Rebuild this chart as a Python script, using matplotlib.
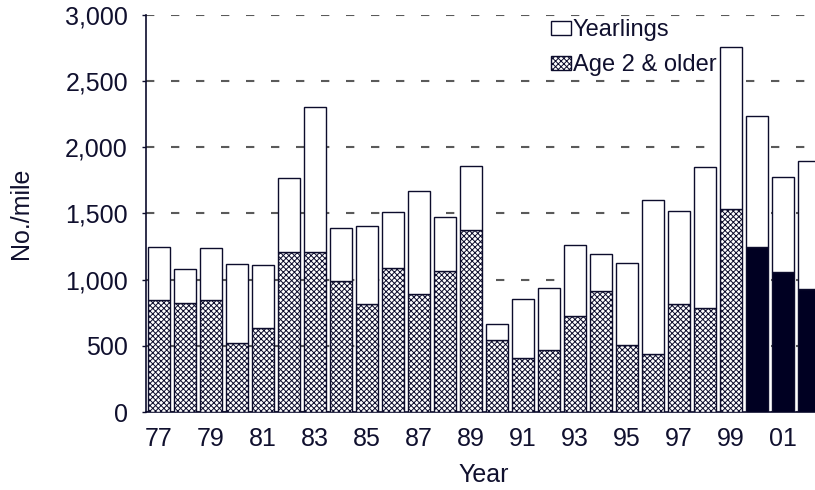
import matplotlib
matplotlib.use("Agg")
import matplotlib.pyplot as plt
from matplotlib.patches import Patch

plt.rcParams['font.family'] = ['Liberation Sans', 'DejaVu Sans']
plt.rcParams['hatch.linewidth'] = 0.7

years = ["77", "78", "79", "80", "81", "82", "83", "84", "85", "86", "87", "88", "89",
         "90", "91", "92", "93", "94", "95", "96", "97", "98", "99", "00", "01", "02"]
older = [846, 821, 846, 524, 632, 1207, 1207, 990, 816, 1086, 889, 1068, 1378,
         541, 405, 468, 725, 914, 503, 438, 818, 788, 1534, 1247, 1060, 932]
total = [1245, 1078, 1239, 1116, 1111, 1771, 2307, 1393, 1408, 1509, 1668, 1474, 1859,
         662, 854, 937, 1265, 1196, 1123, 1602, 1516, 1854, 2758, 2239, 1773, 1899]
yearlings = [t - o for t, o in zip(total, older)]
n_hatched = 23  # 1977-1999 hatched, 2000-2002 solid

navy = '#0c0c2c'
txt = '#10102e'
fs = 18

fig = plt.figure(figsize=(8.15, 4.9), dpi=100)
ax = fig.add_axes([146 / 815, 1 - 412 / 490, 676 / 815, 397 / 490])

x = list(range(len(years)))
w = 0.85
ax.bar(x[:n_hatched], older[:n_hatched], w, color='white', edgecolor=navy,
       hatch='xxxxxx', linewidth=1.0, zorder=3)
ax.bar(x[n_hatched:], older[n_hatched:], w, color='#000022', edgecolor=navy,
       linewidth=1.0, zorder=3)
ax.bar(x, yearlings, w, bottom=older, color='white', edgecolor=navy,
       linewidth=1.0, zorder=3)

ax.set_xlim(-0.5, len(years) - 0.5)
ax.set_ylim(0, 3000)
ax.set_yticks(range(0, 3001, 500))
ax.set_yticklabels([f'{v:,}' for v in range(0, 3001, 500)])
ax.set_xticks(x[::2])
ax.set_xticklabels(years[::2])

ax.yaxis.grid(True, linestyle=(0, (4, 8)), color='#5a5a5a', linewidth=1.5, zorder=0)
ax.set_axisbelow(True)
for s in ['top', 'right']:
    ax.spines[s].set_visible(False)
for s in ['left', 'bottom']:
    ax.spines[s].set_color(navy)
    ax.spines[s].set_linewidth(1.2)

ax.tick_params(axis='y', direction='out', length=3, width=1, color=navy,
               labelsize=fs, labelcolor=txt, pad=10)
ax.tick_params(axis='x', length=0, labelsize=fs, labelcolor=txt, pad=11)

ax.set_ylabel('No./mile', fontsize=fs, color=txt)
ax.yaxis.set_label_coords(-0.167, 0.5)
ax.set_xlabel('Year', fontsize=fs, color=txt)
ax.xaxis.set_label_coords(0.5, -0.128)

handles = [Patch(facecolor='white', edgecolor=navy, linewidth=1.0),
           Patch(facecolor='white', edgecolor=navy, hatch='xxxxxx', linewidth=1.0)]
ax.legend(handles, ['Yearlings', 'Age 2 & older'], loc='upper left',
          bbox_to_anchor=(551 / 815, 1 - 19 / 490), bbox_transform=fig.transFigure,
          frameon=False, fontsize=17, labelcolor=txt, handlelength=0.85,
          handleheight=0.55, handletextpad=0.08, labelspacing=0.55,
          borderpad=0, borderaxespad=0)

fig.savefig('out.png', dpi=100)
